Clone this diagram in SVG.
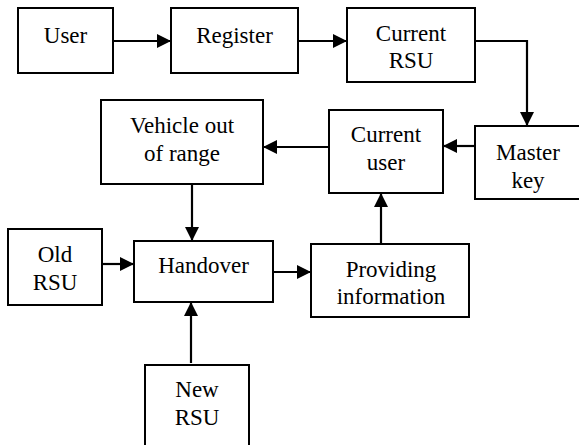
<svg xmlns="http://www.w3.org/2000/svg" width="579" height="445" viewBox="0 0 579 445">
<defs>
<marker id="ah" viewBox="0 0 14 14" refX="14" refY="7" markerWidth="14" markerHeight="14" markerUnits="userSpaceOnUse" orient="auto">
<path d="M0,0 L14,7 L0,14 Z" fill="#000"/>
</marker>
</defs>
<rect x="0" y="0" width="579" height="445" fill="#fff"/>
<g id="user"><rect x="18" y="8" width="95" height="65" fill="#fff" stroke="#000" stroke-width="2"/><text x="65.5" y="43" font-size="23" font-family="Liberation Serif" text-anchor="middle">User</text></g>
<g id="register"><rect x="171" y="8" width="127" height="65" fill="#fff" stroke="#000" stroke-width="2"/><text x="234.5" y="43" font-size="23" font-family="Liberation Serif" text-anchor="middle">Register</text></g>
<g id="current-rsu"><rect x="347" y="8" width="128" height="74" fill="#fff" stroke="#000" stroke-width="2"/><text x="411" y="41" font-size="23" font-family="Liberation Serif" text-anchor="middle">Current</text><text x="411" y="68" font-size="23" font-family="Liberation Serif" text-anchor="middle">RSU</text></g>
<g id="master-key"><rect x="475" y="126" width="106" height="73" fill="#fff" stroke="#000" stroke-width="2"/><text x="528" y="160" font-size="23" font-family="Liberation Serif" text-anchor="middle">Master</text><text x="528" y="188" font-size="23" font-family="Liberation Serif" text-anchor="middle">key</text></g>
<g id="current-user"><rect x="329" y="110" width="114" height="83" fill="#fff" stroke="#000" stroke-width="2"/><text x="386" y="142" font-size="23" font-family="Liberation Serif" text-anchor="middle">Current</text><text x="386" y="170" font-size="23" font-family="Liberation Serif" text-anchor="middle">user</text></g>
<g id="vehicle"><rect x="101" y="100" width="162" height="84" fill="#fff" stroke="#000" stroke-width="2"/><text x="182" y="133" font-size="23" font-family="Liberation Serif" text-anchor="middle">Vehicle out</text><text x="182" y="161" font-size="23" font-family="Liberation Serif" text-anchor="middle">of range</text></g>
<g id="old-rsu"><rect x="8" y="229" width="94" height="76" fill="#fff" stroke="#000" stroke-width="2"/><text x="55" y="262" font-size="23" font-family="Liberation Serif" text-anchor="middle">Old</text><text x="55" y="290" font-size="23" font-family="Liberation Serif" text-anchor="middle">RSU</text></g>
<g id="handover"><rect x="134" y="241" width="139" height="61" fill="#fff" stroke="#000" stroke-width="2"/><text x="203.5" y="273" font-size="23" font-family="Liberation Serif" text-anchor="middle">Handover</text></g>
<g id="providing"><rect x="311" y="244" width="158" height="73" fill="#fff" stroke="#000" stroke-width="2"/><text x="391" y="277" font-size="23" font-family="Liberation Serif" text-anchor="middle">Providing</text><text x="391" y="304" font-size="23" font-family="Liberation Serif" text-anchor="middle">information</text></g>
<g id="new-rsu"><rect x="145" y="365" width="104" height="90" fill="#fff" stroke="#000" stroke-width="2"/><text x="197" y="397" font-size="23" font-family="Liberation Serif" text-anchor="middle">New</text><text x="197" y="425" font-size="23" font-family="Liberation Serif" text-anchor="middle">RSU</text></g>
<g id="connectors" fill="none" stroke="#000" stroke-width="2.2" marker-end="url(#ah)">
<path d="M113,41 H171"/>
<path d="M298,41 H347"/>
<path d="M475,41 H527 V126"/>
<path d="M475,146 H443"/>
<path d="M329,147 H263"/>
<path d="M192,184 V241"/>
<path d="M102,264 H134"/>
<path d="M273,272 H311"/>
<path d="M381,244 V193"/>
<path d="M191,363 V302"/>
</g>
</svg>
